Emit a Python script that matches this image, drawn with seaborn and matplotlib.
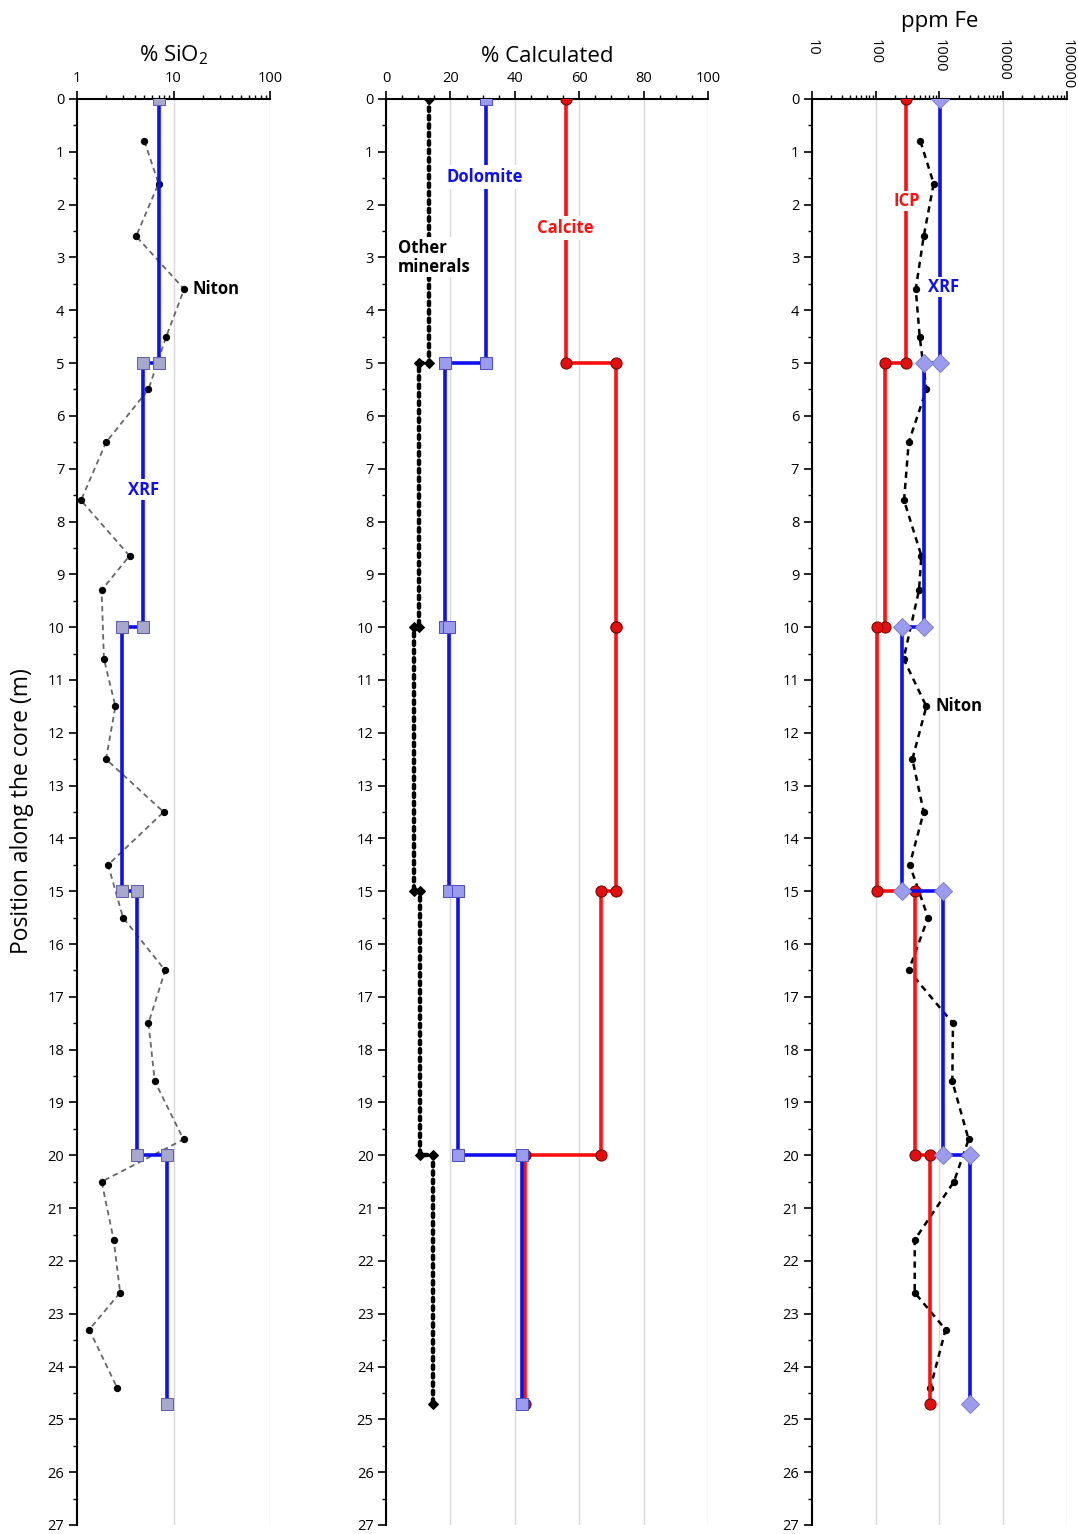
import numpy as np
import pandas as pd
import matplotlib
matplotlib.use('Agg')
import matplotlib.pyplot as plt
import matplotlib.ticker as mticker
import seaborn as sns

# limites dos intervalos (m) das análises em degrau
limites = [0, 5, 10, 15, 20, 24.7]

# % SiO2
sio2_xrf = [7.1, 4.85, 2.9, 4.2, 8.5]
prof_niton = [0.8, 1.6, 2.6, 3.6, 4.5, 5.5, 6.5, 7.6, 8.65, 9.3, 10.6, 11.5, 12.5,
              13.5, 14.5, 15.5, 16.5, 17.5, 18.6, 19.7, 20.5, 21.6, 22.6, 23.3, 24.4]
sio2_niton = [5.0, 7.0, 4.1, 12.9, 8.4, 5.5, 2.0, 1.1, 3.5, 1.8, 1.9, 2.5, 2.0,
              7.9, 2.1, 3.0, 8.2, 5.5, 6.4, 12.7, 1.8, 2.4, 2.8, 1.34, 2.6]

# % calculado
dolomita = [31.2, 18.4, 19.6, 22.5, 42.2]
calcita = [55.8, 71.5, 71.5, 66.9, 43.3]
outros = [13.2, 10.2, 8.8, 10.6, 14.5]

# ppm Fe
fe_icp = [300, 143, 106, 410, 720]
fe_xrf = [1035, 570, 263, 1140, 2970]
fe_niton = [505, 815, 569, 427, 492, 626, 331, 280, 523, 480, 275, 626, 378,
            569, 343, 666, 331, 1634, 1597, 2872, 1694, 411, 411, 1253, 723]


def degraus(valores):
    # transforma valores por intervalo em pontos de uma linha em degrau
    xs, ys = [], []
    for i, v in enumerate(valores):
        xs += [v, v]
        ys += [limites[i], limites[i + 1]]
    return pd.DataFrame({'valor': xs, 'prof': ys})


sns.set_theme(style='white')
plt.rcParams['font.family'] = ['Open Sans', 'DejaVu Sans']
plt.rcParams['mathtext.fontset'] = 'custom'
plt.rcParams['mathtext.rm'] = 'Open Sans'
plt.rcParams['text.color'] = 'black'
plt.rcParams['axes.labelcolor'] = 'black'
plt.rcParams['xtick.color'] = 'black'
plt.rcParams['ytick.color'] = 'black'

fig = plt.figure(figsize=(10.78, 15.34), dpi=100)
bottom = 1 - 1525 / 1534
height = (1525 - 99) / 1534
ax1 = fig.add_axes([77 / 1078, bottom, 193 / 1078, height])
ax2 = fig.add_axes([386 / 1078, bottom, 322 / 1078, height])
ax3 = fig.add_axes([811.7 / 1078, bottom, 255.3 / 1078, height])

lav = '#9c9cee'

# ---- painel 1: SiO2
ax1.set_xscale('log')
sns.lineplot(x=sio2_niton, y=prof_niton, sort=False, estimator=None, ax=ax1,
             color='#666666', lw=1.3, ls=(0, (3, 2.2)), marker='o', markersize=4.5,
             markerfacecolor='black', markeredgecolor='black', zorder=3)
d = degraus(sio2_xrf)
sns.lineplot(data=d, x='valor', y='prof', sort=False, estimator=None, ax=ax1,
             color='#1010ee', lw=2.6, marker='s', markersize=8,
             markerfacecolor='#a8a8cc', markeredgecolor='#6060b0', zorder=4)
ax1.set_xlim(1, 100)
ax1.text(15.6, 3.6, 'Niton', fontsize=12, fontweight='bold', ha='left', va='center')
ax1.text(4.85, 7.4, 'XRF', fontsize=12, fontweight='bold', color='#1010ee', ha='center',
         va='center', zorder=6, bbox=dict(facecolor='white', edgecolor='none', pad=1))
ax1.set_xlabel('% SiO$_\\mathregular{2}$', fontsize=16, labelpad=7)
ax1.xaxis.set_major_formatter(mticker.FuncFormatter(lambda v, p: f'{v:g}'))

# ---- painel 2: % calculado
sns.lineplot(data=degraus(outros), x='valor', y='prof', sort=False, estimator=None, ax=ax2,
             color='black', lw=3.2, ls=(0, (0.8, 1.1)), dash_capstyle='round',
             marker='D', markersize=5.5, markerfacecolor='black', markeredgecolor='black', zorder=3)
sns.lineplot(data=degraus(calcita), x='valor', y='prof', sort=False, estimator=None, ax=ax2,
             color='#ff1010', lw=2.6, marker='o', markersize=8,
             markerfacecolor='#e01010', markeredgecolor='#800000', zorder=3)
sns.lineplot(data=degraus(dolomita), x='valor', y='prof', sort=False, estimator=None, ax=ax2,
             color='#1010ee', lw=2.6, marker='s', markersize=9,
             markerfacecolor=lav, markeredgecolor='#5050c0', zorder=4)
ax2.set_xlim(0, 100)
ax2.xaxis.set_major_locator(mticker.MultipleLocator(20))
ax2.xaxis.set_minor_locator(mticker.MultipleLocator(5))
ax2.text(30.8, 1.48, 'Dolomite', fontsize=12, fontweight='bold', color='#1010ee', ha='center',
         va='center', zorder=6, bbox=dict(facecolor='white', edgecolor='none', pad=2))
ax2.text(55.8, 2.44, 'Calcite', fontsize=12, fontweight='bold', color='#ff1010', ha='center',
         va='center', zorder=6, bbox=dict(facecolor='white', edgecolor='none', pad=2))
ax2.text(15.0, 3.0, 'Other\nminerals', fontsize=12, fontweight='bold', ha='center',
         multialignment='left', va='center', linespacing=1.1, zorder=6,
         bbox=dict(facecolor='white', edgecolor='none', pad=1))
ax2.set_xlabel('% Calculated', fontsize=16, labelpad=7)

# ---- painel 3: ppm Fe
ax3.set_xscale('log')
sns.lineplot(x=fe_niton, y=prof_niton, sort=False, estimator=None, ax=ax3,
             color='black', lw=1.8, ls=(0, (2.5, 2)), marker='o', markersize=4.5,
             markerfacecolor='black', markeredgecolor='black', zorder=3)
sns.lineplot(data=degraus(fe_icp), x='valor', y='prof', sort=False, estimator=None, ax=ax3,
             color='#ff1010', lw=2.6, marker='o', markersize=8,
             markerfacecolor='#e01010', markeredgecolor='#800000', zorder=4)
sns.lineplot(data=degraus(fe_xrf), x='valor', y='prof', sort=False, estimator=None, ax=ax3,
             color='#1010ee', lw=2.6, marker='D', markersize=9,
             markerfacecolor=lav, markeredgecolor='#8080d0', zorder=4)
ax3.set_xlim(10, 100000)
ax3.text(308, 1.93, 'ICP', fontsize=12, fontweight='bold', color='#ff1010', ha='center',
         va='center', zorder=6, bbox=dict(facecolor='white', edgecolor='none', pad=1))
ax3.text(1170, 3.56, 'XRF', fontsize=12, fontweight='bold', color='#1010ee', ha='center',
         va='center', zorder=6, bbox=dict(facecolor='white', edgecolor='none', pad=1))
ax3.text(870, 11.5, 'Niton', fontsize=12, fontweight='bold', ha='left', va='center')
ax3.xaxis.set_major_formatter(mticker.FuncFormatter(lambda v, p: f'{v:g}' if v < 1e5 else '100000'))
ax3.set_xlabel('ppm Fe', fontsize=16, labelpad=9)

for ax in (ax1, ax2, ax3):
    ax.set_ylim(27, 0)
    ax.yaxis.set_major_locator(mticker.MultipleLocator(1))
    ax.yaxis.set_minor_locator(mticker.MultipleLocator(0.5))
    ax.xaxis.tick_top()
    ax.xaxis.set_label_position('top')
    ax.set_ylabel('')
    for s in ('right', 'bottom'):
        ax.spines[s].set_visible(False)
    for s in ('left', 'top'):
        ax.spines[s].set_color('black')
        ax.spines[s].set_linewidth(1.5)
    ax.tick_params(which='major', direction='out', length=6, width=1.2, labelsize=10.5,
                   color='black', pad=3)
    ax.tick_params(which='minor', direction='out', length=3, width=1, color='black')
    ax.tick_params(axis='x', which='both', top=True, bottom=False)
    ax.tick_params(axis='y', which='both', left=True, right=False)
    ax.grid(axis='x', which='major', color='#d8d8d8', lw=1)
    ax.grid(axis='y', visible=False)
    ax.set_facecolor('white')

# rótulos do eixo de Fe girados e alinhados pelo topo
ax3.tick_params(axis='x', which='major', pad=37)
for lab in ax3.get_xticklabels():
    lab.set_rotation(-90)
    lab.set_va('top')

fig.text(22 / 1078, 1 - 811 / 1534, 'Position along the core (m)', rotation=90,
         fontsize=16.5, ha='center', va='center')

fig.savefig('out.png', dpi=100)
